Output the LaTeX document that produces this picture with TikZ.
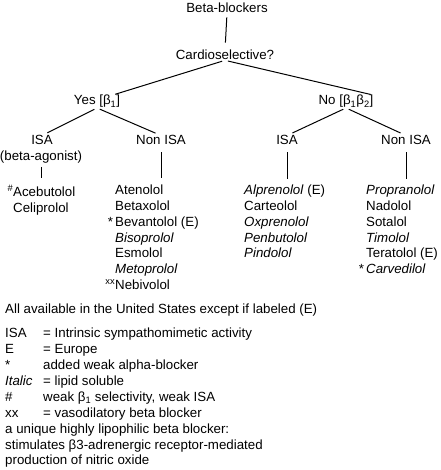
\documentclass[tikz,border=0pt]{standalone}
\usepackage{fontspec}
\setmainfont{Liberation Sans}
\usetikzlibrary{calc}
\begin{document}
\begin{tikzpicture}[x=1pt,y=-1pt,
  lbl/.style={inner sep=0pt, font=\fontsize{13.3}{15.8}\selectfont},
  lst/.style={lbl, align=left, anchor=north west},
  leg/.style={inner sep=0pt, align=left, anchor=north west, font=\fontsize{13.3}{15.9}\selectfont},
  edge/.style={line width=1pt}]
\useasboundingbox (0,0) rectangle (440,470);
% tree labels
\node[lbl,anchor=base] (root) at (227,13) {Beta-blockers};
\node[lbl,anchor=base] (cardio) at (225,60) {Cardioselective?};
\node[lbl,anchor=base] (yes) at (97,105) {Yes [β\textsubscript{1}]};
\node[lbl,anchor=base] (no) at (346,105) {No [β\textsubscript{1}β\textsubscript{2}]};
\node[lbl,anchor=base] (isaL) at (42,145) {ISA};
\node[lbl,anchor=base] (agon) at (41,161) {(beta-agonist)};
\node[lbl,anchor=base] (nonL) at (161,145) {Non ISA};
\node[lbl,anchor=base] (isaR) at (287,145) {ISA};
\node[lbl,anchor=base] (nonR) at (406,145) {Non ISA};
% lists
\node[lst] (lstA) at (13,184.5) {\rule{0pt}{10pt}\llap{\textsuperscript{\#}}Acebutolol\\Celiprolol};
\node[lst] (lstB) at (115,184.5) {\rule{0pt}{10pt}Atenolol\\Betaxolol\\\llap{*\,}Bevantolol (E)\\\textit{Bisoprolol}\\Esmolol\\\textit{Metoprolol}\\\llap{\textsuperscript{xx}}Nebivolol};
\node[lst] (lstC) at (244,184.5) {\rule{0pt}{10pt}\textit{Alprenolol} (E)\\Carteolol\\\textit{Oxprenolol}\\\textit{Penbutolol}\\\textit{Pindolol}};
\node[lst] (lstD) at (366,184.5) {\rule{0pt}{10pt}\textit{Propranolol}\\Nadolol\\Sotalol\\\textit{Timolol}\\Teratolol (E)\\\llap{*\,}\textit{Carvedilol}};
% connectors
\draw[edge, shorten <=4pt, shorten >=7.5pt] (root.south) -- (cardio.north);
\draw[edge, shorten <=3pt, shorten >=3pt] (cardio.south) -- ($(yes.north)!0.66!(yes.north east)$);
\draw[edge, shorten <=3pt, shorten >=3pt] (cardio.south) -- (no.north east);
\draw[edge, shorten <=3pt, shorten >=6pt] (yes.south) -- (isaL.north);
\draw[edge, shorten <=3pt, shorten >=6pt] (yes.south) -- (nonL.north);
\draw[edge, shorten <=3pt, shorten >=6pt] (no.south) -- (isaR.north);
\draw[edge, shorten <=3pt, shorten >=6pt] (no.south) -- (nonR.north);
\draw[edge, shorten <=3pt, shorten >=6.5pt] (agon.south) -- (agon.south |- lstA.north);
\draw[edge, shorten <=7pt, shorten >=6.5pt] (nonL.south) -- (nonL.south |- lstB.north);
\draw[edge, shorten <=7pt, shorten >=5pt] (isaR.south) -- (isaR.south |- lstC.north);
\draw[edge, shorten <=7pt, shorten >=5pt] (nonR.south) -- (nonR.south |- lstD.north);
% legend
\node[lbl,anchor=base west] (avail) at (5,313.5) {All available in the United States except if labeled (E)};
\node[leg] (legend) at (5,327.5) {\rule{0pt}{10pt}\makebox[38pt][l]{ISA}= Intrinsic sympathomimetic activity\\
\makebox[38pt][l]{E}= Europe\\
\makebox[38pt][l]{*}added weak alpha-blocker\\
\makebox[38pt][l]{\textit{Italic}}= lipid soluble\\
\makebox[38pt][l]{\#}weak β\textsubscript{1} selectivity, weak ISA\\
\makebox[38pt][l]{xx}= vasodilatory beta blocker\\
a unique highly lipophilic beta blocker:\\
stimulates β3-adrenergic receptor-mediated\\
production of nitric oxide};
\end{tikzpicture}
\end{document}
